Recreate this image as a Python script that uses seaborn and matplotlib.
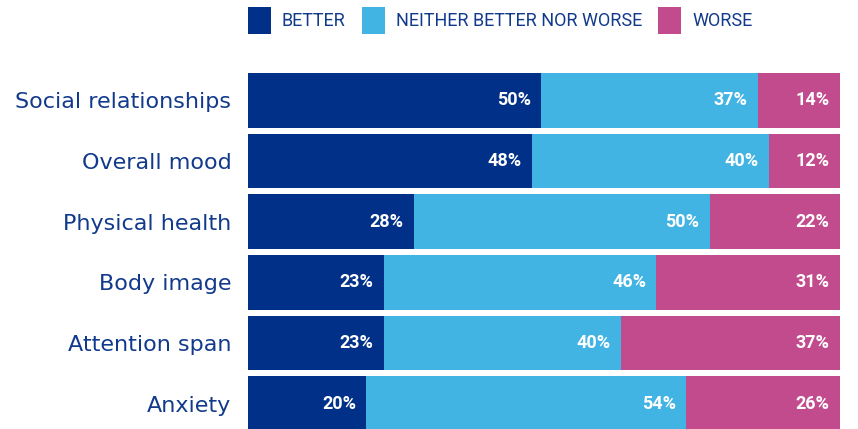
import numpy as np
import pandas as pd
import matplotlib
matplotlib.use('Agg')
import matplotlib.pyplot as plt
from matplotlib.patches import Patch
import seaborn as sns

# ── Data ─────────────────────────────────────────────────────
categories = ['Social relationships', 'Overall mood', 'Physical health',
              'Body image', 'Attention span', 'Anxiety']
better  = [50, 48, 28, 23, 23, 20]
neither = [37, 40, 50, 46, 40, 54]
worse   = [14, 12, 22, 31, 37, 26]
series_names = ['BETTER', 'NEITHER BETTER NOR WORSE', 'WORSE']

# ── Style ────────────────────────────────────────────────────
sns.set_style('white')
plt.rcParams['font.family'] = ['DejaVu Sans']
DARK  = '#003087'
LIGHT = '#42b4e4'
PINK  = '#c24b8e'
TEXT  = '#123a8c'

df = pd.DataFrame({'cat': categories, 'b': better, 'n': neither, 'w': worse})
df['total'] = df['b'] + df['n'] + df['w']
df['c1'] = df['b'] / df['total'] * 100
df['c2'] = (df['b'] + df['n']) / df['total'] * 100
df['c3'] = 100.0

fig = plt.figure(figsize=(8.58, 4.29), dpi=100)
ax = fig.add_axes([248 / 858, 0, 592 / 858, 359 / 429])

# stacked bars drawn as overlapping cumulative bars
for col, clr in [('c3', PINK), ('c2', LIGHT), ('c1', DARK)]:
    sns.barplot(data=df, x=col, y='cat', orient='h', color=clr,
                width=0.9, linewidth=0, saturation=1, ax=ax)

# value labels at right end of each segment
for i, row in df.iterrows():
    for end, val in [(row['c1'], row['b']), (row['c2'], row['n']), (row['c3'], row['w'])]:
        ax.annotate(f'{val}%', xy=(end, i), xytext=(-7.5, 0), textcoords='offset points',
                    ha='right', va='center', color='white', fontsize=13,
                    fontweight='bold', family=['Roboto', 'DejaVu Sans'])

ax.set_xlim(0, 100)
ax.set_ylim(5.42, -0.5)
ax.set_xlabel('')
ax.set_ylabel('')
ax.set_xticks([])
ax.tick_params(axis='y', length=0, pad=12, labelsize=16, labelcolor=TEXT)
sns.despine(ax=ax, left=True, bottom=True)

handles = [Patch(facecolor=c, edgecolor='none') for c in [DARK, LIGHT, PINK]]
fig.legend(handles, series_names, loc='upper left', ncol=3,
           bbox_to_anchor=(248 / 858, 1 - 7 / 429), frameon=False,
           prop={'family': ['Roboto', 'DejaVu Sans'], 'size': 13},
           labelcolor=TEXT, handlelength=1.27, handleheight=1.95,
           handletextpad=0.61, columnspacing=0.89, borderpad=0, borderaxespad=0)

plt.savefig('out.png', dpi=100)
